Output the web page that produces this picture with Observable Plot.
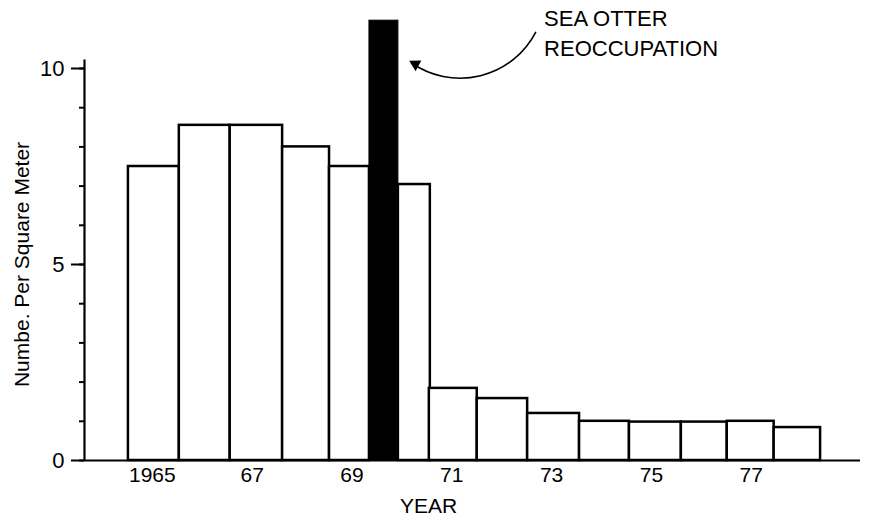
<!DOCTYPE html>
<html>
<head>
<meta charset="utf-8">
<script src="https://cdn.jsdelivr.net/npm/d3@7"></script>
<script src="https://cdn.jsdelivr.net/npm/@observablehq/plot@0.6"></script>
<style>
  html, body { margin: 0; padding: 0; background: #fff; }
  #chart svg { display: block; }
</style>
</head>
<body>
<div id="chart"></div>
<script>
// Sampling years and density of sea urchins (number per square meter)
const years = [1965, 1966, 1967, 1968, 1969, 1970, 1971, 1972, 1973, 1974, 1975, 1976, 1977, 1978];
const periodStart = [1964.52, 1965.54, 1966.56, 1967.61, 1968.55, 1969.93, 1970.55, 1971.51, 1972.52, 1973.56, 1974.56, 1975.60, 1976.52, 1977.46];
const periodEnd   = [1965.54, 1966.56, 1967.61, 1968.55, 1969.35, 1970.57, 1971.51, 1972.52, 1973.56, 1974.56, 1975.60, 1976.52, 1977.46, 1978.39];
const density     = [7.5, 8.55, 8.55, 8.0, 7.5, 7.04, 1.84, 1.58, 1.2, 1.0, 0.98, 0.98, 1.0, 0.84];

// Sea otter reoccupation period (black bar)
const otterStart = [1969.35];
const otterEnd = [1969.93];
const otterHeight = [11.22];

// Axis ticks
const xTicks = [1965, 1967, 1969, 1971, 1973, 1975, 1977];
const xTickLabels = ["1965", "67", "69", "71", "73", "75", "77"];
const yMajorTicks = [0, 5, 10];
const yMinorTicks = [0, 1, 2, 3, 4, 5, 6, 7, 8, 9, 10];

const xDomain = [1963.64, 1979.19];
const yDomain = [0, 10];

// Annotation
const annotationText = ["SEA OTTER\nREOCCUPATION"];
const annotationPos = {x: 1972.85, y: 11.62};
const arrowSpec = [{x1: 1972.68, y1: 10.92, x2: 1970.13, y2: 10.2}];

const bars = years.map((yr, i) => ({year: yr, x1: periodStart[i], x2: periodEnd[i], value: density[i]}));
const otter = otterStart.map((s, i) => ({x1: s, x2: otterEnd[i], value: otterHeight[i]}));

const font = "'Liberation Sans', Arial, Helvetica, sans-serif";

const chart = Plot.plot({
  width: 869,
  height: 517,
  marginLeft: 84,
  marginRight: 9,
  marginTop: 68,
  marginBottom: 57,
  style: {fontFamily: font, fontSize: "21px", color: "#000", background: "#fff", overflow: "visible"},
  x: {domain: xDomain},
  y: {domain: yDomain},
  marks: [
    Plot.rectY(bars, {x1: "x1", x2: "x2", y: "value", fill: "#fff", stroke: "#000", strokeWidth: 2.5}),
    Plot.rectY(otter, {x1: "x1", x2: "x2", y: "value", fill: "#000", stroke: "#000", strokeWidth: 1}),
    Plot.ruleY([0], {stroke: "#000", strokeWidth: 2.2}),
    Plot.ruleX([xDomain[0]], {y1: 0, y2: 10.22, stroke: "#000", strokeWidth: 2.2}),
    Plot.axisY(yMinorTicks, {tickSize: 5, tickFormat: null, text: null, strokeWidth: 2}),
    Plot.axisY(yMajorTicks, {tickSize: 13, tickPadding: 7, strokeWidth: 2, fontSize: 22, tickFormat: d => String(d)}),
    Plot.axisX(xTicks, {tickSize: 0, tickPadding: 7, fontSize: 21, tickFormat: d => xTickLabels[xTicks.indexOf(d)]}),
    Plot.text(["YEAR"], {frameAnchor: "bottom", dx: -44, dy: 46, fontSize: 21, lineAnchor: "middle"}),
    Plot.text(["Numbe. Per Square Meter"], {frameAnchor: "left", dx: -62, rotate: -90, fontSize: 21, textAnchor: "middle", lineAnchor: "middle"}),
    Plot.text(annotationText, {x: annotationPos.x, y: annotationPos.y, textAnchor: "start", lineAnchor: "top", fontSize: 22, lineHeight: 1.36}),
    Plot.arrow(arrowSpec, {x1: "x1", y1: "y1", x2: "x2", y2: "y2", bend: 50, stroke: "#000", strokeWidth: 1.6, headLength: 0, insetEnd: 4}),
    Plot.dot(arrowSpec, {x: "x2", y: "y2", symbol: "triangle", r: 4.5, fill: "#000", stroke: "none", rotate: -62, dx: 7, dy: 3.5})
  ]
});

document.getElementById("chart").appendChild(chart);
</script>
</body>
</html>
